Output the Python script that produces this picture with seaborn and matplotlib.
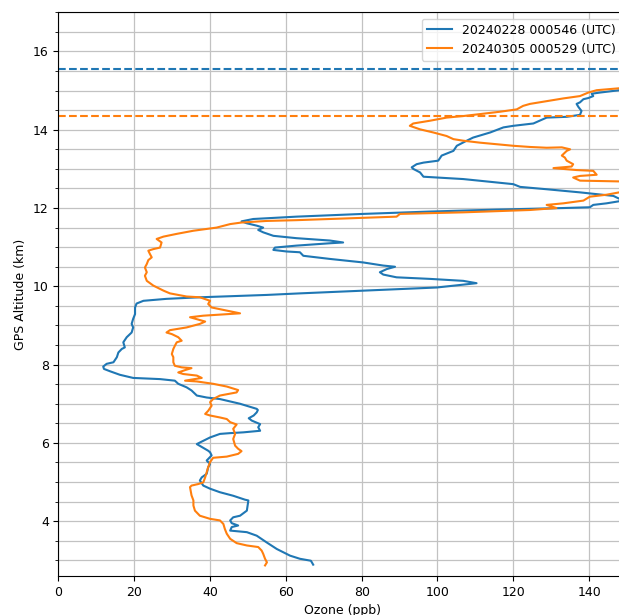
import numpy as np
import pandas as pd
import matplotlib
matplotlib.use("Agg")
import matplotlib.pyplot as plt
import matplotlib.ticker as mticker
import seaborn as sns

# ── profile 1: 20240228 000546 (UTC) ─────────────────────────────────────
blue_ozone = [
    67.2, 66.6, 63.7, 61.1, 57.6, 54.9, 52.3, 49.7, 45.3, 45.7, 47.4, 45.7, 45.3, 46.1,
    47.9, 49.7, 50.1, 49.2, 46.1, 42.6, 40.0, 38.2, 37.3, 37.8, 39.1, 39.5, 40.0, 39.1,
    40.4, 40.0, 39.5, 36.5, 37.3, 40.0, 42.6, 45.3, 48.8, 53.2, 52.7, 53.2, 51.0, 50.2,
    51.5, 52.3, 52.6, 52.3, 47.9, 42.6, 39.1, 36.5, 35.1, 33.8, 31.6, 30.7, 26.8, 19.7,
    16.2, 13.6, 12.0, 11.8, 12.7, 14.5, 15.4, 15.8, 16.7, 17.5, 17.1, 18.0, 19.3, 19.7,
    19.3, 19.7, 20.2, 20.2, 20.6, 22.4, 28.5, 37.3, 54.9, 63.7, 80.4, 99.8, 110.3, 106.8,
    98.0, 89.2, 85.7, 84.8, 86.6, 88.8, 85.7, 80.4, 71.6, 64.6, 63.7, 60.2, 56.7, 57.1,
    62.8, 71.6, 75.1, 71.6, 62.8, 56.7, 54.0, 52.7, 54.0, 52.3, 49.7, 48.3, 51.4, 62.8,
    80.4, 98.0, 115.6, 133.2, 140.2, 141.1, 144.6, 149.0, 146.4, 137.6, 128.8, 121.8,
    120.0, 106.8, 96.3, 95.4, 93.6, 93.2, 94.5, 96.3, 100.2, 101.1, 102.4, 104.2, 105.1,
    107.3, 109.4, 113.9, 117.4, 120.0, 125.3, 127.9, 128.8, 134.1, 137.6, 138.0, 137.2,
    136.7, 137.6, 138.5, 139.8, 141.1, 140.7, 142.9, 148.0, 152.0,
]
blue_alt = [
    2.89, 2.99, 3.04, 3.12, 3.29, 3.46, 3.63, 3.72, 3.76, 3.85, 3.89, 3.95, 4.02, 4.10,
    4.14, 4.27, 4.53, 4.55, 4.65, 4.74, 4.83, 4.91, 5.04, 5.12, 5.21, 5.38, 5.46, 5.55,
    5.68, 5.76, 5.80, 5.97, 6.01, 6.14, 6.23, 6.25, 6.27, 6.31, 6.40, 6.48, 6.57, 6.63,
    6.70, 6.78, 6.84, 6.87, 7.00, 7.12, 7.16, 7.21, 7.34, 7.42, 7.51, 7.59, 7.63, 7.66,
    7.74, 7.83, 7.89, 7.95, 8.02, 8.06, 8.19, 8.31, 8.40, 8.44, 8.57, 8.70, 8.82, 8.95,
    9.04, 9.17, 9.29, 9.46, 9.56, 9.63, 9.68, 9.72, 9.78, 9.82, 9.89, 9.97, 10.08, 10.14,
    10.19, 10.23, 10.30, 10.36, 10.44, 10.50, 10.53, 10.61, 10.70, 10.78, 10.87, 10.89,
    10.93, 10.99, 11.04, 11.10, 11.12, 11.17, 11.23, 11.29, 11.38, 11.44, 11.50, 11.55,
    11.61, 11.66, 11.72, 11.78, 11.85, 11.91, 11.96, 12.00, 12.02, 12.08, 12.12, 12.19,
    12.31, 12.40, 12.48, 12.54, 12.61, 12.74, 12.80, 12.91, 13.00, 13.04, 13.12, 13.16,
    13.21, 13.34, 13.39, 13.46, 13.59, 13.70, 13.80, 13.93, 14.06, 14.10, 14.16, 14.27,
    14.31, 14.33, 14.38, 14.48, 14.58, 14.66, 14.70, 14.78, 14.81, 14.86, 14.92, 14.95,
    15.01, 15.05,
]

# ── profile 2: 20240305 000529 (UTC) ─────────────────────────────────────
orange_ozone = [
    54.5, 55.0, 54.5, 54.0, 53.6, 52.7, 49.7, 47.0, 45.3, 44.4, 43.9, 43.5, 42.6, 40.0,
    37.3, 36.0, 35.6, 35.6, 35.1, 34.7, 35.1, 36.9, 38.2, 38.7, 39.1, 39.5, 40.0, 40.8,
    44.4, 47.4, 48.3, 47.4, 46.6, 46.1, 46.6, 46.1, 47.0, 45.3, 44.4, 42.6, 40.0, 38.7,
    39.5, 40.4, 40.0, 40.8, 42.6, 47.0, 47.4, 44.4, 40.8, 36.5, 33.4, 34.7, 37.8, 36.5,
    32.9, 31.6, 33.4, 35.1, 32.5, 30.7, 30.3, 30.3, 29.9, 30.3, 30.7, 31.2, 32.5, 31.6,
    29.9, 28.5, 29.4, 33.8, 37.3, 38.7, 36.5, 34.7, 38.2, 44.4, 47.9, 44.4, 40.4, 39.5,
    40.0, 37.3, 33.8, 29.4, 27.7, 25.0, 23.3, 22.8, 23.3, 22.8, 23.3, 23.7, 24.6, 24.1,
    23.7, 25.0, 26.8, 27.2, 25.9, 27.7, 31.2, 35.6, 41.7, 45.3, 48.3, 54.9, 62.8, 89.2,
    90.1, 106.8, 124.4, 131.4, 128.8, 133.2, 138.5, 140.2, 144.6, 148.0, 152.0, 152.0,
    148.0, 137.6, 135.8, 137.6, 142.0, 141.1, 136.7, 130.6, 135.4, 135.8, 134.1, 133.6,
    132.8, 134.1, 135.0, 132.8, 128.8, 124.4, 120.0, 115.6, 111.2, 106.8, 104.2, 102.4,
    98.9, 95.4, 92.7, 93.6, 98.0, 102.4, 106.8, 111.2, 116.5, 120.9, 122.6, 124.4,
    128.8, 133.2, 137.6, 139.8, 142.0, 148.0, 152.0,
]
orange_alt = [
    2.87, 2.95, 3.04, 3.17, 3.25, 3.34, 3.38, 3.44, 3.55, 3.68, 3.80, 3.93, 4.02, 4.06,
    4.14, 4.27, 4.40, 4.53, 4.66, 4.87, 4.91, 4.95, 4.99, 5.12, 5.25, 5.38, 5.51, 5.62,
    5.65, 5.72, 5.79, 5.85, 5.93, 6.10, 6.23, 6.36, 6.47, 6.53, 6.61, 6.65, 6.70, 6.74,
    6.82, 6.95, 7.04, 7.12, 7.21, 7.29, 7.35, 7.44, 7.51, 7.57, 7.59, 7.61, 7.66, 7.72,
    7.76, 7.80, 7.86, 7.91, 7.93, 7.97, 8.06, 8.19, 8.27, 8.40, 8.48, 8.57, 8.61, 8.70,
    8.78, 8.82, 8.88, 8.95, 9.04, 9.10, 9.16, 9.21, 9.25, 9.29, 9.31, 9.38, 9.46, 9.55,
    9.63, 9.72, 9.74, 9.82, 9.89, 10.02, 10.14, 10.27, 10.36, 10.48, 10.57, 10.67, 10.74,
    10.83, 10.91, 10.95, 10.99, 11.12, 11.21, 11.27, 11.34, 11.42, 11.50, 11.59, 11.63,
    11.67, 11.69, 11.78, 11.85, 11.89, 11.95, 12.00, 12.08, 12.12, 12.19, 12.29, 12.34,
    12.40, 12.50, 12.62, 12.68, 12.70, 12.78, 12.82, 12.85, 12.95, 12.97, 13.02, 13.06,
    13.12, 13.21, 13.29, 13.34, 13.46, 13.50, 13.55, 13.54, 13.56, 13.59, 13.63, 13.67,
    13.72, 13.76, 13.84, 13.93, 14.01, 14.10, 14.16, 14.23, 14.31, 14.35, 14.40, 14.46,
    14.52, 14.61, 14.66, 14.73, 14.80, 14.86, 14.95, 15.01, 15.06, 15.08,
]

labels = ["20240228 000546 (UTC)", "20240305 000529 (UTC)"]
colors = ["#1f77b4", "#ff7f0e"]
tropopause_km = [15.54, 14.34]

plt.rcParams["font.size"] = 9

df = pd.concat([
    pd.DataFrame({"ozone": blue_ozone, "alt": blue_alt, "flight": labels[0]}),
    pd.DataFrame({"ozone": orange_ozone, "alt": orange_alt, "flight": labels[1]}),
])

fig = plt.figure(figsize=(6.19, 6.15), dpi=100)
# axes run a little past the right edge, as in the cropped original
ax = fig.add_axes([0.0945, 0.0634, 0.9184, 0.9166])

for lab, col in zip(labels, colors):
    sub = df[df["flight"] == lab]
    sns.lineplot(data=sub, x="ozone", y="alt", sort=False, estimator=None,
                 color=col, lw=1.5, label=lab, ax=ax)

for h, col in zip(tropopause_km, colors):
    ax.axhline(h, color=col, ls="--", lw=1.5)

ax.set_xlim(0, 150)
ax.set_ylim(2.6, 17.0)
ax.xaxis.set_major_locator(mticker.MultipleLocator(20))
ax.yaxis.set_major_locator(mticker.MultipleLocator(2))
ax.yaxis.set_minor_locator(mticker.MultipleLocator(0.5))
ax.grid(which="both", color="#c2c2c2", lw=0.9)
ax.set_axisbelow(True)
ax.set_xlabel("Ozone (ppb)")
ax.set_ylabel("GPS Altitude (km)")
ax.legend(loc="upper right", fontsize=9)

fig.savefig("out.png", dpi=100)
